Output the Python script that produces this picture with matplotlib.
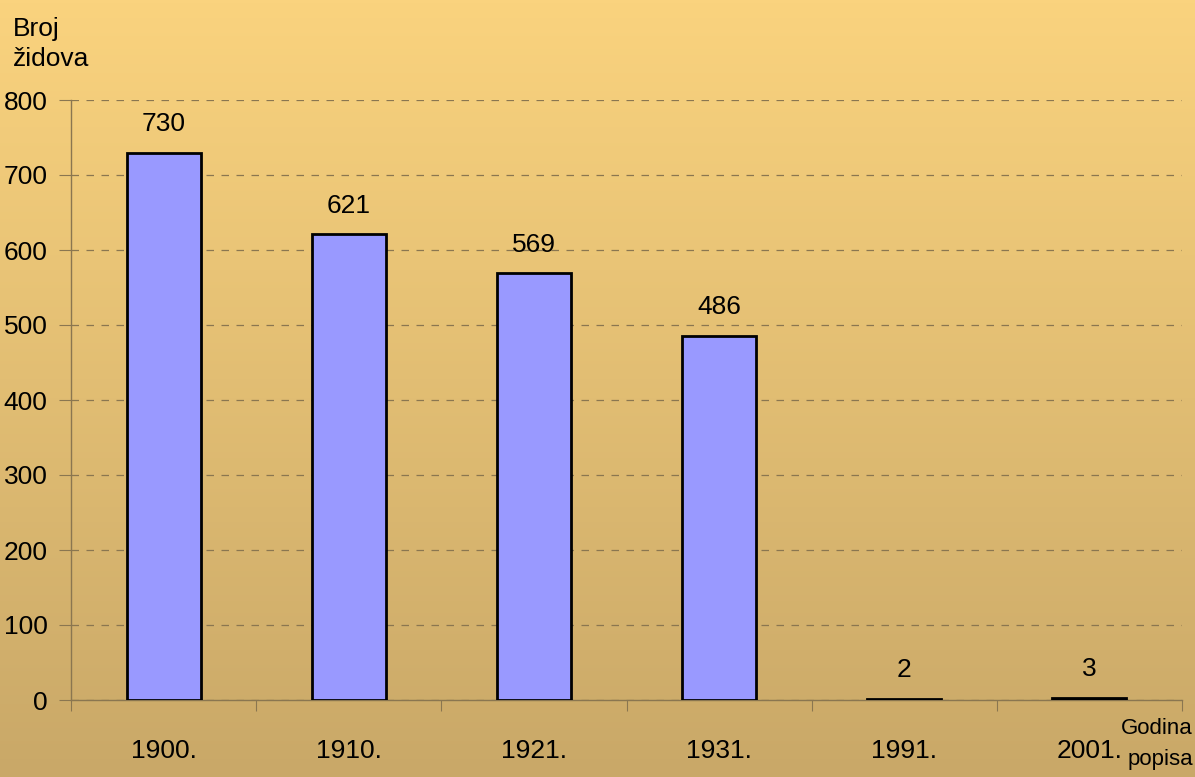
import matplotlib.pyplot as plt
import numpy as np

plt.rcParams['font.family'] = ['Liberation Sans', 'DejaVu Sans']

years = ["1900.", "1910.", "1921.", "1931.", "1991.", "2001."]
counts = [730, 621, 569, 486, 2, 3]
yticks = [0, 100, 200, 300, 400, 500, 600, 700, 800]

fig = plt.figure(figsize=(11.95, 7.77), dpi=100)

# pozadina s gradijentom
bg = fig.add_axes([0, 0, 1, 1], zorder=-1)
top = np.array([250, 211, 126]) / 255
bot = np.array([201, 168, 104]) / 255
t = np.linspace(0, 1, 256)[:, None]
grad = top * (1 - t) + bot * t
bg.imshow(grad[:, None, :].repeat(2, axis=1), aspect="auto", extent=[0, 1, 0, 1])
bg.axis("off")

ax = fig.add_axes([71/1195, 1-700/777, (1182-71)/1195, 600/777])
ax.patch.set_alpha(0)
x = np.arange(len(years))
ax.bar(x, counts, width=0.4, color="#9999FF", edgecolor="black", linewidth=2, zorder=3)
for xi, c in zip(x, counts):
    ax.text(xi, c + 22, str(c), ha="center", va="bottom", fontsize=19)

ax.set_xlim(-0.5, len(years) - 0.5)
ax.set_ylim(0, 800)
ax.set_yticks(yticks)
ax.set_yticklabels([str(v) for v in yticks], fontsize=19)
ax.yaxis.grid(True, linestyle=(0, (6, 6)), color="#8a7650", linewidth=0.9)
ax.set_axisbelow(True)

ax.set_xticks(np.arange(len(years) + 1) - 0.5)
ax.set_xticklabels([])
ax.set_xticks(x, minor=True)
ax.set_xticklabels(years, minor=True, fontsize=19)
ax.tick_params(axis="x", which="major", length=8, color="#8a7650", direction="out")
ax.tick_params(axis="x", which="minor", length=0, pad=28)
ax.tick_params(axis="y", length=9, color="#8a7650", pad=8)

for s in ["top", "right"]:
    ax.spines[s].set_visible(False)
for s in ["left", "bottom"]:
    ax.spines[s].set_color("#8a7650")
    ax.spines[s].set_linewidth(1)

fig.text(13/1195, 1-44/777, "Broj\nžidova", fontsize=19, va="center", ha="left", linespacing=1.35)
fig.text(1193/1195, 1-744/777, "Godina\npopisa", fontsize=16, va="center", ha="right", linespacing=1.6)

fig.savefig("out.png", dpi=100)
